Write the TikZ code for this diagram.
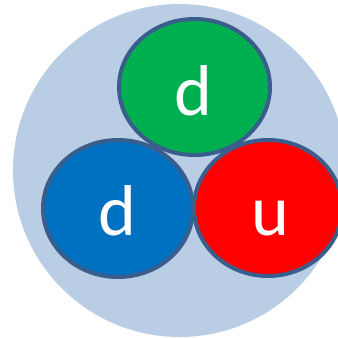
\documentclass[tikz,border=0pt]{standalone}
\usepackage{fontspec}
\setmainfont{Carlito}
\definecolor{bgc}{HTML}{B9CDE5}
\definecolor{edgec}{HTML}{3A5E8C}
\definecolor{qgreen}{HTML}{00B050}
\definecolor{qblue}{HTML}{0070C0}
\definecolor{qred}{HTML}{FF0000}
\tikzset{
  quark/.style={draw=edgec, line width=4pt},
  qlabel/.style={text=white, font=\fontsize{72}{72}\selectfont, anchor=base, inner sep=0pt}
}
\begin{document}
\begin{tikzpicture}[x=1pt,y=-1pt]
\useasboundingbox (0,0) rectangle (338,338);
\clip (0,0) rectangle (338,338);
\fill[bgc] (179.5,170.5) circle (166.5);
\path[quark, fill=qgreen] (194.5,87) ellipse [x radius=75.5, y radius=68];
\path[quark, fill=qblue] (118,208.5) ellipse [x radius=75, y radius=68.5];
\path[quark, fill=qred] (268,208) ellipse [x radius=74, y radius=68];
\node[qlabel] (g) at (193,115) {d};
\node[qlabel] (b) at (117.5,235) {d};
\node[qlabel] (r) at (270,235) {u};
\end{tikzpicture}
\end{document}
